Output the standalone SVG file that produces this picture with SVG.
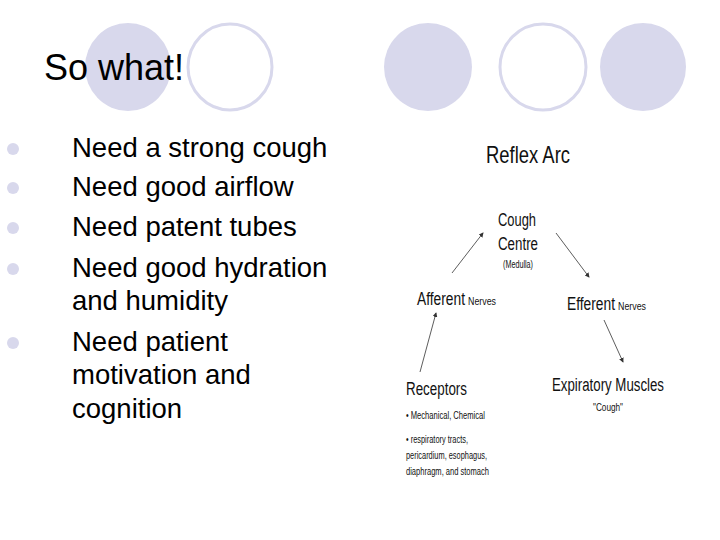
<svg xmlns="http://www.w3.org/2000/svg" width="720" height="540" viewBox="0 0 720 540">
<style>
.f{fill:#d8d8ec}.o{fill:none;stroke:#d8d8ec;stroke-width:3}
.t{font-family:"Liberation Sans",Arial,sans-serif;fill:#000}
.b{font-size:27.5px}
.n{font-family:"Liberation Sans",Arial,sans-serif;fill:#111}
.a{stroke:#333;stroke-width:0.8;fill:none;marker-end:url(#m)}
</style>
<defs><marker id="m" markerWidth="6" markerHeight="6" refX="5" refY="3" orient="auto"><path d="M0,0L6,3L0,6z" fill="#333"/></marker></defs>
<g id="decor">
<ellipse class="f" cx="128" cy="67" rx="43" ry="44"/>
<ellipse class="o" cx="230" cy="67" rx="42" ry="43"/>
<ellipse class="f" cx="428" cy="67" rx="44" ry="44"/>
<ellipse class="o" cx="543" cy="67" rx="43" ry="43"/>
<ellipse class="f" cx="643" cy="67" rx="43" ry="44"/>
</g>
<text class="t" x="44" y="80" font-size="36">So what!</text>
<g id="bullets" class="t b">
<circle class="f" cx="13" cy="149" r="6"/><circle class="f" cx="13" cy="188" r="6"/><circle class="f" cx="13" cy="228" r="6"/><circle class="f" cx="13" cy="269" r="6"/><circle class="f" cx="13" cy="343" r="6"/>
<text x="72" y="157">Need a strong cough</text>
<text x="72" y="196">Need good airflow</text>
<text x="72" y="236">Need patent tubes</text>
<text x="72" y="277">Need good hydration</text>
<text x="72" y="310">and humidity</text>
<text x="72" y="351">Need patient</text>
<text x="72" y="384">motivation and</text>
<text x="72" y="418">cognition</text>
</g>
<text class="n" x="486" y="163" font-size="24" textLength="84" lengthAdjust="spacingAndGlyphs">Reflex Arc</text>
<g id="cough"><text class="n" x="498" y="226" font-size="18" textLength="38" lengthAdjust="spacingAndGlyphs">Cough</text><text class="n" x="498" y="250" font-size="18" textLength="40" lengthAdjust="spacingAndGlyphs">Centre</text><text class="n" x="503" y="268" font-size="10" textLength="30" lengthAdjust="spacingAndGlyphs">(Medulla)</text></g>
<g id="afferent"><text class="n" x="417" y="305" font-size="18" textLength="48" lengthAdjust="spacingAndGlyphs">Afferent</text><text class="n" x="468" y="305" font-size="11" textLength="28" lengthAdjust="spacingAndGlyphs">Nerves</text></g>
<g id="efferent"><text class="n" x="567" y="310" font-size="18" textLength="48" lengthAdjust="spacingAndGlyphs">Efferent</text><text class="n" x="618" y="310" font-size="11" textLength="28" lengthAdjust="spacingAndGlyphs">Nerves</text></g>
<g id="receptors"><text class="n" x="406" y="395" font-size="18" textLength="61" lengthAdjust="spacingAndGlyphs">Receptors</text>
<text class="n" x="406" y="419" font-size="10" textLength="79" lengthAdjust="spacingAndGlyphs">• Mechanical, Chemical</text>
<text class="n" x="406" y="443" font-size="10" textLength="62" lengthAdjust="spacingAndGlyphs">• respiratory tracts,</text>
<text class="n" x="406" y="459" font-size="10" textLength="81" lengthAdjust="spacingAndGlyphs">pericardium, esophagus,</text>
<text class="n" x="406" y="475" font-size="10" textLength="83" lengthAdjust="spacingAndGlyphs">diaphragm, and stomach</text></g>
<g id="muscles"><text class="n" x="552" y="391" font-size="18" textLength="112" lengthAdjust="spacingAndGlyphs">Expiratory Muscles</text><text class="n" x="593" y="411" font-size="11" textLength="30" lengthAdjust="spacingAndGlyphs">"Cough"</text></g>
<g id="connectors">
<line class="a" x1="452" y1="273" x2="483" y2="233"/>
<line class="a" x1="420" y1="372" x2="436" y2="313"/>
<line class="a" x1="556" y1="233" x2="589" y2="277"/>
<line class="a" x1="604" y1="320" x2="623" y2="362"/>
</g>
</svg>
